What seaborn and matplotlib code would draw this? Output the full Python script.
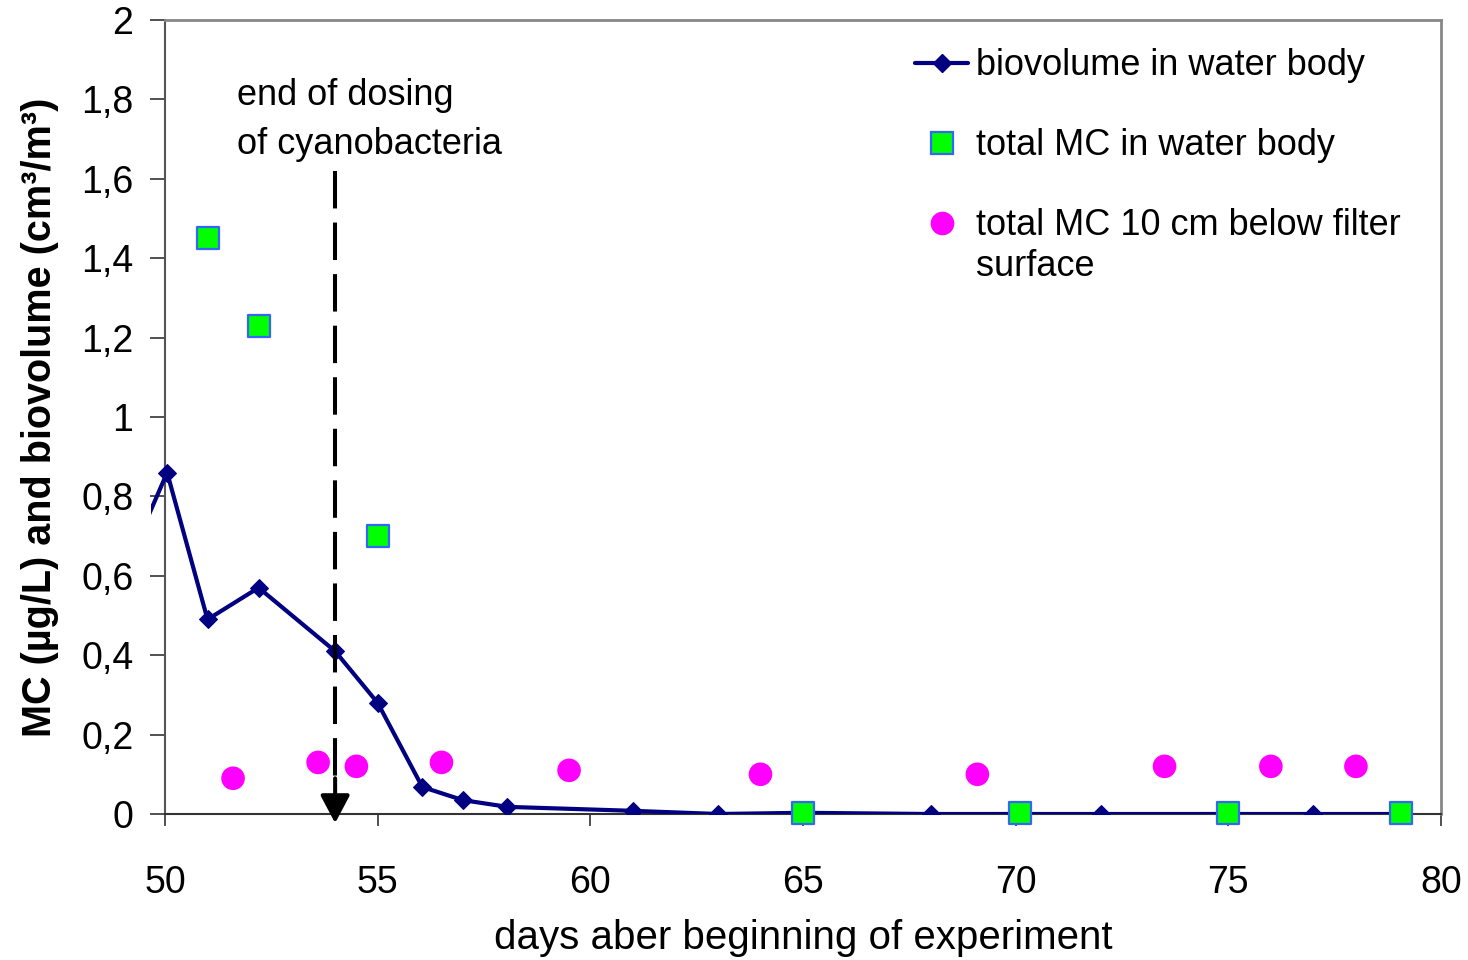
import matplotlib
matplotlib.use("Agg")
import matplotlib.pyplot as plt
import seaborn as sns
import numpy as np
from matplotlib.lines import Line2D
from matplotlib.transforms import Bbox, TransformedBbox
from matplotlib.ticker import FuncFormatter

# ---- data ----
bio_days = [49.0, 50.05, 51.0, 52.2, 54.0, 55.0, 56.05, 57.0, 58.05, 61.0, 63.0, 65.0, 68.0, 70.0, 72.0, 75.0, 77.0, 79.0]
bio_vals = [0.60, 0.86, 0.49, 0.57, 0.41, 0.28, 0.068, 0.035, 0.018, 0.008, 0.0, 0.003, 0.0, 0.0, 0.0, 0.0, 0.0, 0.0]

mc_days = [51.0, 52.2, 55.0, 65.0, 70.1, 75.0, 79.05]
mc_vals = [1.45, 1.23, 0.70, 0.003, 0.003, 0.003, 0.003]

filt_days = [51.6, 53.6, 54.5, 56.5, 59.5, 64.0, 69.1, 73.5, 76.0, 78.0]
filt_vals = [0.09, 0.13, 0.12, 0.13, 0.11, 0.10, 0.10, 0.12, 0.12, 0.12]

dosing_end_day = 54.0
x_ticks = [50, 55, 60, 65, 70, 75, 80]
y_ticks = [0, 0.2, 0.4, 0.6, 0.8, 1.0, 1.2, 1.4, 1.6, 1.8, 2.0]

labels = ["biovolume in water body", "total MC in water body",
          "total MC 10 cm below filter"]
label_cont = "surface"

# ---- style ----
sns.set_style("white")
plt.rcParams['font.family'] = ['Liberation Sans', 'DejaVu Sans']
plt.rcParams['text.color'] = 'black'
plt.rcParams['axes.labelcolor'] = 'black'
plt.rcParams['xtick.color'] = 'black'
plt.rcParams['ytick.color'] = 'black'

fig = plt.figure(figsize=(14.68, 9.60), dpi=100)
ax = fig.add_axes([165/1468, 1-814/960, (1441-165)/1468, (814-20)/960])

navy = "#000080"
sns.lineplot(x=bio_days, y=bio_vals, ax=ax, color=navy, linewidth=3.0,
             marker="D", markersize=9.5, markeredgecolor=navy, sort=False,
             legend=False, zorder=3)
bio_line = ax.lines[-1]
bio_line.set_clip_box(TransformedBbox(Bbox([[-0.011, 0], [1, 1]]), ax.transAxes))

sns.scatterplot(x=mc_days, y=mc_vals, ax=ax, marker="s", s=16**2,
                color="#00FF00", edgecolor="#3366FF", linewidth=1.6,
                legend=False, zorder=4, clip_on=False)
sns.scatterplot(x=filt_days, y=filt_vals, ax=ax, marker="o", s=17**2,
                color="#FF00FF", edgecolor="none", linewidth=0,
                legend=False, zorder=4)

# dashed arrow
ax.plot([dosing_end_day, dosing_end_day], [1.62, 0.09], color="black",
        linewidth=2.9, dashes=(9.3, 3.5), zorder=5)
ax.annotate("", xy=(dosing_end_day, -0.023), xytext=(dosing_end_day, 0.09),
            arrowprops=dict(arrowstyle="-|>,head_length=1.7,head_width=0.9",
                            color="black", lw=2.9, shrinkA=0, shrinkB=0),
            zorder=6, annotation_clip=False)

ax.text(51.7, 1.748, "end of dosing\nof cyanobacteria", fontsize=26,
        ha="left", va="center", linespacing=1.55)

ax.set_xlim(50, 80)
ax.set_ylim(0, 2)
ax.set_xticks(x_ticks)
ax.set_yticks(y_ticks)
ax.yaxis.set_major_formatter(FuncFormatter(lambda v, p: ("%g" % round(v, 1)).replace(".", ",")))
ax.tick_params(axis="x", direction="out", length=8.6, width=1.2, color="#333333",
               labelsize=27, pad=28, bottom=True)
ax.tick_params(axis="y", direction="out", length=10.8, width=1.2, color="#333333",
               labelsize=27, pad=12, left=True)

for side in ["top", "right"]:
    ax.spines[side].set_color("#888888")
    ax.spines[side].set_linewidth(2)
ax.spines["left"].set_color("#555555")
ax.spines["left"].set_linewidth(1.5)
ax.spines["bottom"].set_color("#333333")
ax.spines["bottom"].set_linewidth(1.5)

ax.set_xlabel("days aber beginning of experiment", fontsize=29, labelpad=13)
ax.set_ylabel("MC (µg/L) and biovolume (cm³/m³)", fontsize=28.5,
              fontweight="bold", labelpad=16)

handles = [
    Line2D([], [], color=navy, linewidth=3, marker="D", markersize=9.5),
    Line2D([], [], linestyle="none", marker="s", markersize=16,
           markerfacecolor="#00FF00", markeredgecolor="#3366FF", markeredgewidth=1.6),
    Line2D([], [], linestyle="none", marker="o", markersize=17,
           markerfacecolor="#FF00FF", markeredgecolor="none"),
]
leg = ax.legend(handles, labels, loc="upper left", bbox_to_anchor=(0.588, 0.9645),
                frameon=False, fontsize=26, handlelength=1.47, handletextpad=0.22,
                labelspacing=1.25, borderaxespad=0, borderpad=0)

# continuation line of the third legend label, placed right under it
fig.canvas.draw()
renderer = fig.canvas.get_renderer()
bb = leg.get_texts()[2].get_window_extent(renderer)
inv = fig.transFigure.inverted()
x0, y0 = inv.transform((bb.x0, bb.y0 - 41 + bb.height / 2))
fig.text(x0, y0, label_cont, fontsize=26, ha="left", va="center")

fig.savefig("out.png", dpi=100)
